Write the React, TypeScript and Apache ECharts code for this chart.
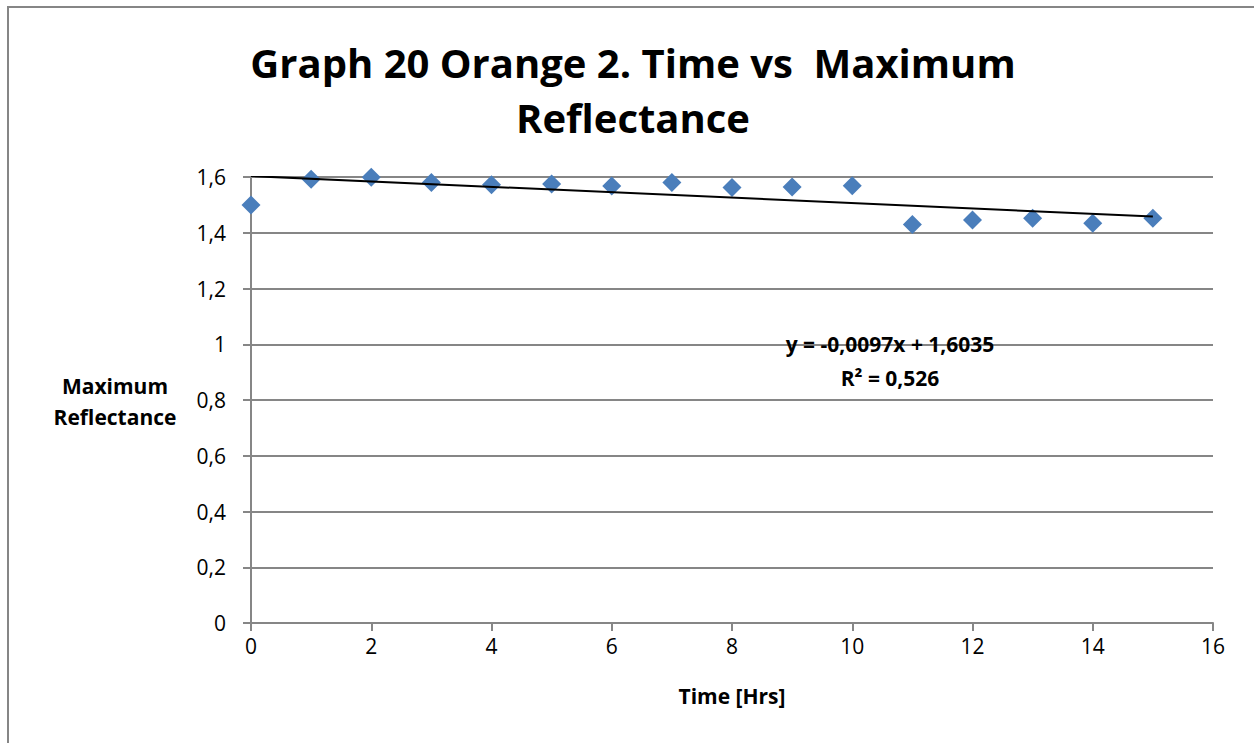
import React, { useEffect, useRef } from "react";
import * as echarts from "echarts";

const timeHrs = [0, 1, 2, 3, 4, 5, 6, 7, 8, 9, 10, 11, 12, 13, 14, 15];
const maxReflectance = [1.5, 1.592, 1.599, 1.58, 1.572, 1.575, 1.568, 1.58, 1.562, 1.564, 1.569, 1.43, 1.446, 1.452, 1.434, 1.452];
const trendSlope = -0.0097;
const trendIntercept = 1.6035;
const trendRange = [0, 15];
const titleLines = ["Graph 20 Orange 2. Time vs  Maximum", "Reflectance"];
const equationLines = ["y = -0,0097x + 1,6035", "R² = 0,526"];

const FONT = "'Open Sans', 'Liberation Sans', sans-serif";

export default function App() {
  const ref = useRef<HTMLDivElement>(null);
  useEffect(() => {
    if (!ref.current) return;
    const chart = echarts.init(ref.current, null, { renderer: "svg" });
    const scatterData = timeHrs.map((t, i) => [t, maxReflectance[i]]);
    const trendData = trendRange.map((x) => [x, trendIntercept + trendSlope * x]);
    chart.setOption({
      animation: false,
      backgroundColor: "#ffffff",
      textStyle: { fontFamily: FONT },
      title: {
        text: titleLines.join("\n"),
        left: 628,
        top: 30,
        textAlign: "center",
        textStyle: { fontFamily: FONT, fontSize: 40, fontWeight: "bold", color: "#000", lineHeight: 55 },
      },
      grid: { left: 251, right: 41, top: 177, bottom: 120, containLabel: false },
      xAxis: {
        type: "value",
        min: 0,
        max: 16,
        interval: 2,
        name: "Time [Hrs]",
        nameLocation: "middle",
        nameGap: 62,
        nameTextStyle: { fontFamily: FONT, fontSize: 21, fontWeight: "bold", color: "#000" },
        axisLine: { show: true, onZero: false, lineStyle: { color: "#868686", width: 2 } },
        axisTick: { show: true, length: 8, lineStyle: { color: "#868686", width: 2 } },
        axisLabel: { fontFamily: FONT, fontSize: 21, color: "#000", margin: 12 },
        splitLine: { show: false },
      },
      yAxis: {
        type: "value",
        min: 0,
        max: 1.6,
        interval: 0.2,
        axisLine: { show: true, lineStyle: { color: "#868686", width: 2 } },
        axisTick: { show: true, length: 8, lineStyle: { color: "#868686", width: 2 } },
        axisLabel: {
          fontFamily: FONT,
          fontSize: 21,
          color: "#000",
          margin: 25,
          formatter: (v: number) => String(Math.round(v * 10) / 10).replace(".", ","),
        },
        splitLine: { show: true, lineStyle: { color: "#868686", width: 2 } },
      },
      graphic: [
        {
          type: "rect",
          shape: { x: 8, y: 7, width: 1400, height: 900 },
          style: { fill: "none", stroke: "#868686", lineWidth: 2 },
          silent: true,
        },
        {
          type: "text",
          x: 115,
          y: 386,
          style: { text: "Maximum", font: `bold 21px ${FONT}`, fill: "#000", align: "center", verticalAlign: "middle" },
        },
        {
          type: "text",
          x: 115,
          y: 417,
          style: { text: "Reflectance", font: `bold 21px ${FONT}`, fill: "#000", align: "center", verticalAlign: "middle" },
        },
        {
          type: "text",
          x: 890,
          y: 344,
          style: { text: equationLines[0], font: `bold 21px ${FONT}`, fill: "#000", align: "center", verticalAlign: "middle" },
          z: 100,
        },
        {
          type: "text",
          x: 890,
          y: 378,
          style: { text: equationLines[1], font: `bold 21px ${FONT}`, fill: "#000", align: "center", verticalAlign: "middle" },
          z: 100,
        },
      ],
      series: [
        {
          type: "line",
          data: trendData,
          showSymbol: false,
          symbol: "none",
          lineStyle: { color: "#000", width: 2 },
          z: 3,
        },
        {
          type: "scatter",
          data: scatterData,
          symbol: "diamond",
          symbolSize: 19,
          itemStyle: { color: "#4A7EBB", opacity: 1 },
          z: 2,
        },
      ],
    });
    return () => chart.dispose();
  }, []);
  return <div ref={ref} style={{ position: "absolute", left: 0, top: 0, width: 1254, height: 743 }} />;
}
